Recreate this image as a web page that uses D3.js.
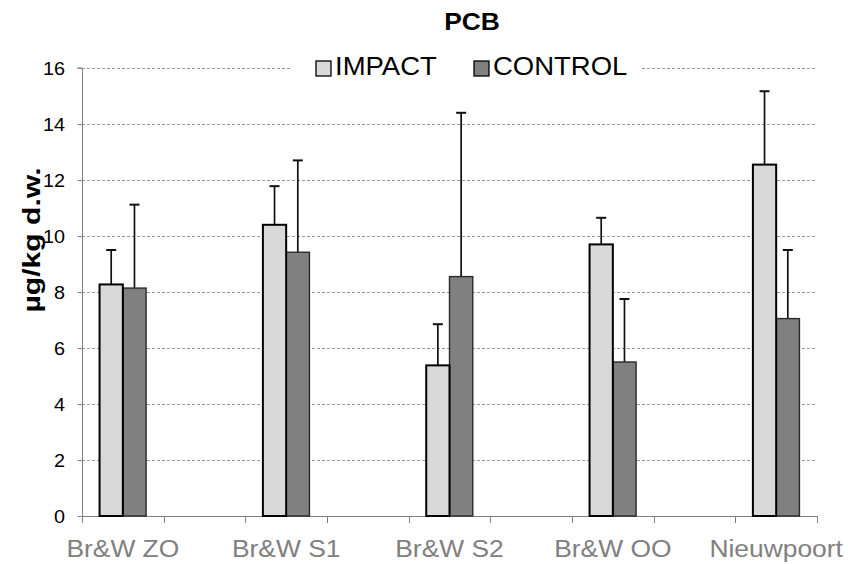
<!DOCTYPE html>
<html>
<head>
<meta charset="utf-8">
<script src="https://cdn.jsdelivr.net/npm/d3@7"></script>
<style>
  body { margin: 0; background: #fff; }
  svg { font-family: "Liberation Sans", Arial, sans-serif; }
</style>
</head>
<body>
<script>
// chart values
var categories = ["Br&W ZO", "Br&W S1", "Br&W S2", "Br&W OO", "Nieuwpoort"];
var series = ["IMPACT", "CONTROL"];
var impact = [8.27, 10.4, 5.38, 9.7, 12.55];
var impactErr = [1.23, 1.38, 1.47, 0.95, 2.62];
var control = [8.14, 9.42, 8.55, 5.5, 7.05];
var controlErr = [2.98, 3.28, 5.85, 2.25, 2.45];
var yTicks = [0, 2, 4, 6, 8, 10, 12, 14, 16];

var width = 848, height = 564;
var margin = {top: 68, right: 31, bottom: 48, left: 82};
var stretch = 1.1; // the original text is a bit wider than it is tall

var svg = d3.select('body').append('svg')
    .attr('width', width)
    .attr('height', height);

// puts a text at (px,py) and widens it a little
function wideText(sel, px, py) {
    sel.attr('transform', function(d, i) {
        return 'translate(' + px(d, i) + ',' + py(d, i) + ') scale(' + stretch + ',1)';
    });
}

// empty slots sit between the sites, as in the original sheet
var slots = [];
categories.forEach(function(c, i) {
    if (i > 0) slots.push('gap' + i);
    slots.push(c);
});

var x = d3.scaleBand()
    .domain(slots)
    .range([margin.left, width - margin.right]);

var groupW = x.bandwidth() * 0.57;
var x1 = d3.scaleBand()
    .domain(series)
    .range([(x.bandwidth() - groupW) / 2, (x.bandwidth() + groupW) / 2]);

var y = d3.scaleLinear()
    .domain([0, 16])
    .range([height - margin.bottom, margin.top]);

var fills = {IMPACT: '#d9d9d9', CONTROL: '#808080'};
var strokes = {IMPACT: '#000', CONTROL: '#2a2a2a'};
var strokeW = {IMPACT: 2, CONTROL: 1.4};

// gridlines
svg.append('g')
    .selectAll('line')
    .data(yTicks.slice(1))
    .enter().append('line')
    .attr('x1', margin.left)
    .attr('x2', width - margin.right)
    .attr('y1', function(d) { return y(d) + 0.5; })
    .attr('y2', function(d) { return y(d) + 0.5; })
    .attr('stroke', '#999')
    .attr('stroke-width', 1)
    .attr('stroke-dasharray', '3,2');

// y axis
var yAxis = svg.append('g')
    .attr('transform', 'translate(' + (margin.left + 0.5) + ',0)')
    .call(d3.axisLeft(y).tickValues(yTicks).tickSize(5).tickFormat(''));
yAxis.select('.domain').attr('stroke', '#808080').attr('d', 'M-5,' + y(16) + 'H0V' + y(0));
yAxis.selectAll('.tick line').attr('stroke', '#808080');

svg.append('g')
    .selectAll('text')
    .data(yTicks)
    .enter().append('text')
    .attr('text-anchor', 'end')
    .attr('font-size', 18)
    .attr('fill', '#000')
    .text(function(d) { return d; })
    .call(wideText, function() { return 65; }, function(d) { return y(d) + 7; });

// x axis: ticks between every slot
var bounds = slots.map(function(s) { return x(s); }).concat([width - margin.right]);
var xg = svg.append('g');
xg.append('line')
    .attr('x1', margin.left)
    .attr('x2', width - margin.right)
    .attr('y1', y(0) + 0.5)
    .attr('y2', y(0) + 0.5)
    .attr('stroke', '#808080');
xg.selectAll('line.tk')
    .data(bounds)
    .enter().append('line')
    .attr('class', 'tk')
    .attr('x1', function(d) { return Math.round(d) + 0.5; })
    .attr('x2', function(d) { return Math.round(d) + 0.5; })
    .attr('y1', y(0))
    .attr('y2', y(0) + 7)
    .attr('stroke', '#808080');
xg.selectAll('text')
    .data(categories)
    .enter().append('text')
    .attr('text-anchor', 'middle')
    .attr('font-size', 24)
    .attr('fill', '#808080')
    .text(function(d) { return d; })
    .call(wideText, function(d) { return x(d) + x.bandwidth() / 2; }, function() { return y(0) + 41; });

// bars
var rows = categories.map(function(c, i) {
    return [
        {cat: c, key: 'IMPACT', v: impact[i], e: impactErr[i]},
        {cat: c, key: 'CONTROL', v: control[i], e: controlErr[i]}
    ];
});

var groups = svg.append('g')
    .selectAll('g')
    .data(rows)
    .enter().append('g')
    .attr('transform', function(d) { return 'translate(' + x(d[0].cat) + ',0)'; });

// error bars (upper only)
groups.selectAll('line.err')
    .data(function(d) { return d; })
    .enter().append('line')
    .attr('class', 'err')
    .attr('x1', function(d) { return x1(d.key) + x1.bandwidth() / 2; })
    .attr('x2', function(d) { return x1(d.key) + x1.bandwidth() / 2; })
    .attr('y1', function(d) { return y(d.v); })
    .attr('y2', function(d) { return y(d.v + d.e); })
    .attr('stroke', '#111')
    .attr('stroke-width', 1.7);
groups.selectAll('line.cap')
    .data(function(d) { return d; })
    .enter().append('line')
    .attr('class', 'cap')
    .attr('x1', function(d) { return x1(d.key) + x1.bandwidth() / 2 - 5; })
    .attr('x2', function(d) { return x1(d.key) + x1.bandwidth() / 2 + 5; })
    .attr('y1', function(d) { return y(d.v + d.e); })
    .attr('y2', function(d) { return y(d.v + d.e); })
    .attr('stroke', '#111')
    .attr('stroke-width', 2);

groups.selectAll('rect')
    .data(function(d) { return d.slice().reverse(); })
    .enter().append('rect')
    .attr('x', function(d) { return x1(d.key); })
    .attr('y', function(d) { return y(d.v); })
    .attr('width', x1.bandwidth())
    .attr('height', function(d) { return y(0) - y(d.v); })
    .attr('fill', function(d) { return fills[d.key]; })
    .attr('stroke', function(d) { return strokes[d.key]; })
    .attr('stroke-width', function(d) { return strokeW[d.key]; });

// legend
var lg = svg.append('g');
lg.append('rect')
    .attr('x', 292).attr('y', 54)
    .attr('width', 350).attr('height', 30)
    .attr('fill', '#fff');
var legendX = [316, 474];
lg.selectAll('rect.sw')
    .data(series)
    .enter().append('rect')
    .attr('class', 'sw')
    .attr('x', function(d, i) { return legendX[i]; })
    .attr('y', 61)
    .attr('width', 15).attr('height', 15)
    .attr('fill', function(d) { return fills[d]; })
    .attr('stroke', '#000')
    .attr('stroke-width', 1.3);
lg.selectAll('text')
    .data(series)
    .enter().append('text')
    .attr('font-size', 25)
    .attr('fill', '#000')
    .text(function(d) { return d; })
    .call(wideText, function(d, i) { return legendX[i] + 19; }, function() { return 75; });

// title
svg.append('text')
    .datum('PCB')
    .attr('text-anchor', 'middle')
    .attr('font-size', 24)
    .attr('font-weight', 'bold')
    .text(function(d) { return d; })
    .call(wideText, function() { return 472; }, function() { return 30; });

// y axis label
svg.append('text')
    .attr('transform', 'translate(40,' + (y(8) - 52) + ') rotate(-90)')
    .attr('text-anchor', 'middle')
    .attr('font-size', 24)
    .attr('font-weight', 'bold')
    .attr('textLength', 145)
    .attr('lengthAdjust', 'spacingAndGlyphs')
    .text('µg/kg d.w.');
</script>
</body>
</html>
